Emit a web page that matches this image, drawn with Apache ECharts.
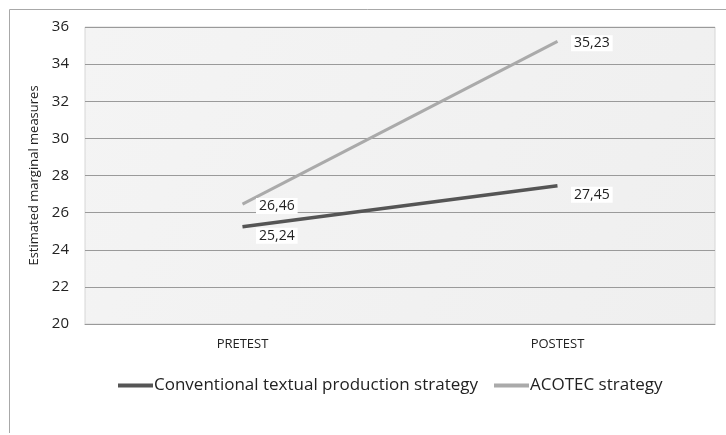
<!DOCTYPE html>
<html>
<head>
<meta charset="utf-8">
<script src="https://cdn.jsdelivr.net/npm/echarts@6/dist/echarts.min.js"></script>
<style>
html,body{margin:0;padding:0;background:#fff;}
#c{width:726px;height:435px;}
</style>
</head>
<body>
<div id="c"></div>
<script>
const categories = ['PRETEST', 'POSTEST'];
const conventional = [25.24, 27.45];
const acotec = [26.46, 35.23];
const seriesNames = ['Conventional textual production strategy', 'ACOTEC strategy'];
const seriesColors = ['#555555', '#aaaaaa'];
const yTicks = { min: 20, max: 36, interval: 2 };

const FONT = 'Open Sans';
const chart = echarts.init(document.getElementById('c'));
const fmt = p => String(p.value.toFixed(2)).replace('.', ',');
chart.setOption({
  animation: false,
  textStyle: { fontFamily: FONT },
  graphic: [
    { type: 'line', shape: { x1: 9.5, y1: 9.5, x2: 726, y2: 9.5 }, style: { stroke: '#a8a8a8', lineWidth: 1 } },
    { type: 'line', shape: { x1: 9.5, y1: 9.5, x2: 9.5, y2: 433 }, style: { stroke: '#a8a8a8', lineWidth: 1 } }
  ],
  grid: {
    left: 85, top: 27, right: 11, bottom: 111,
    show: true,
    backgroundColor: new echarts.graphic.LinearGradient(0, 0, 1, 1, [
      { offset: 0, color: '#f4f4f4' }, { offset: 1, color: '#efefef' }
    ]),
    borderColor: '#d6d6d6', borderWidth: 1
  },
  legend: {
    bottom: 36, left: 113,
    itemWidth: 35, itemHeight: 4, itemGap: 16,
    icon: 'rect',
    textStyle: { fontSize: 17, color: '#222', fontFamily: FONT, padding: [0, 0, 0, -4] },
    data: seriesNames.map((n, i) => ({ name: n, itemStyle: { opacity: 1, color: seriesColors[i] } }))
  },
  xAxis: {
    type: 'category', data: categories, boundaryGap: true,
    axisLine: { show: true, lineStyle: { color: '#999' } },
    axisTick: { show: false },
    axisLabel: { fontSize: 13, color: '#222', margin: 14 }
  },
  yAxis: {
    type: 'value', min: yTicks.min, max: yTicks.max, interval: yTicks.interval,
    name: 'Estimated marginal measures', nameLocation: 'middle', nameGap: 44,
    nameTextStyle: { fontSize: 13, color: '#222' },
    axisLine: { show: false }, axisTick: { show: false },
    axisLabel: { fontSize: 15, color: '#222', margin: 16 },
    splitLine: { lineStyle: { color: '#9a9a9a', width: 1 } }
  },
  series: [
    {
      name: seriesNames[0], type: 'line', data: conventional,
      symbol: 'circle', symbolSize: 1, itemStyle: { opacity: 0, color: seriesColors[0] },
      color: seriesColors[0],
      lineStyle: { width: 3.5, color: seriesColors[0] },
      label: { show: true, opacity: 1, formatter: fmt, position: 'right', offset: [8, 9], fontSize: 14, color: '#222',
        backgroundColor: '#fff', padding: [1, 3] }
    },
    {
      name: seriesNames[1], type: 'line', data: acotec,
      symbol: 'circle', symbolSize: 1, itemStyle: { opacity: 0, color: seriesColors[1] },
      color: seriesColors[1],
      lineStyle: { width: 3, color: seriesColors[1] },
      label: { show: true, opacity: 1, formatter: fmt, position: 'right', offset: [8, 2], fontSize: 14, color: '#222',
        backgroundColor: '#fff', padding: [1, 3] }
    }
  ]
});
</script>
</body>
</html>
